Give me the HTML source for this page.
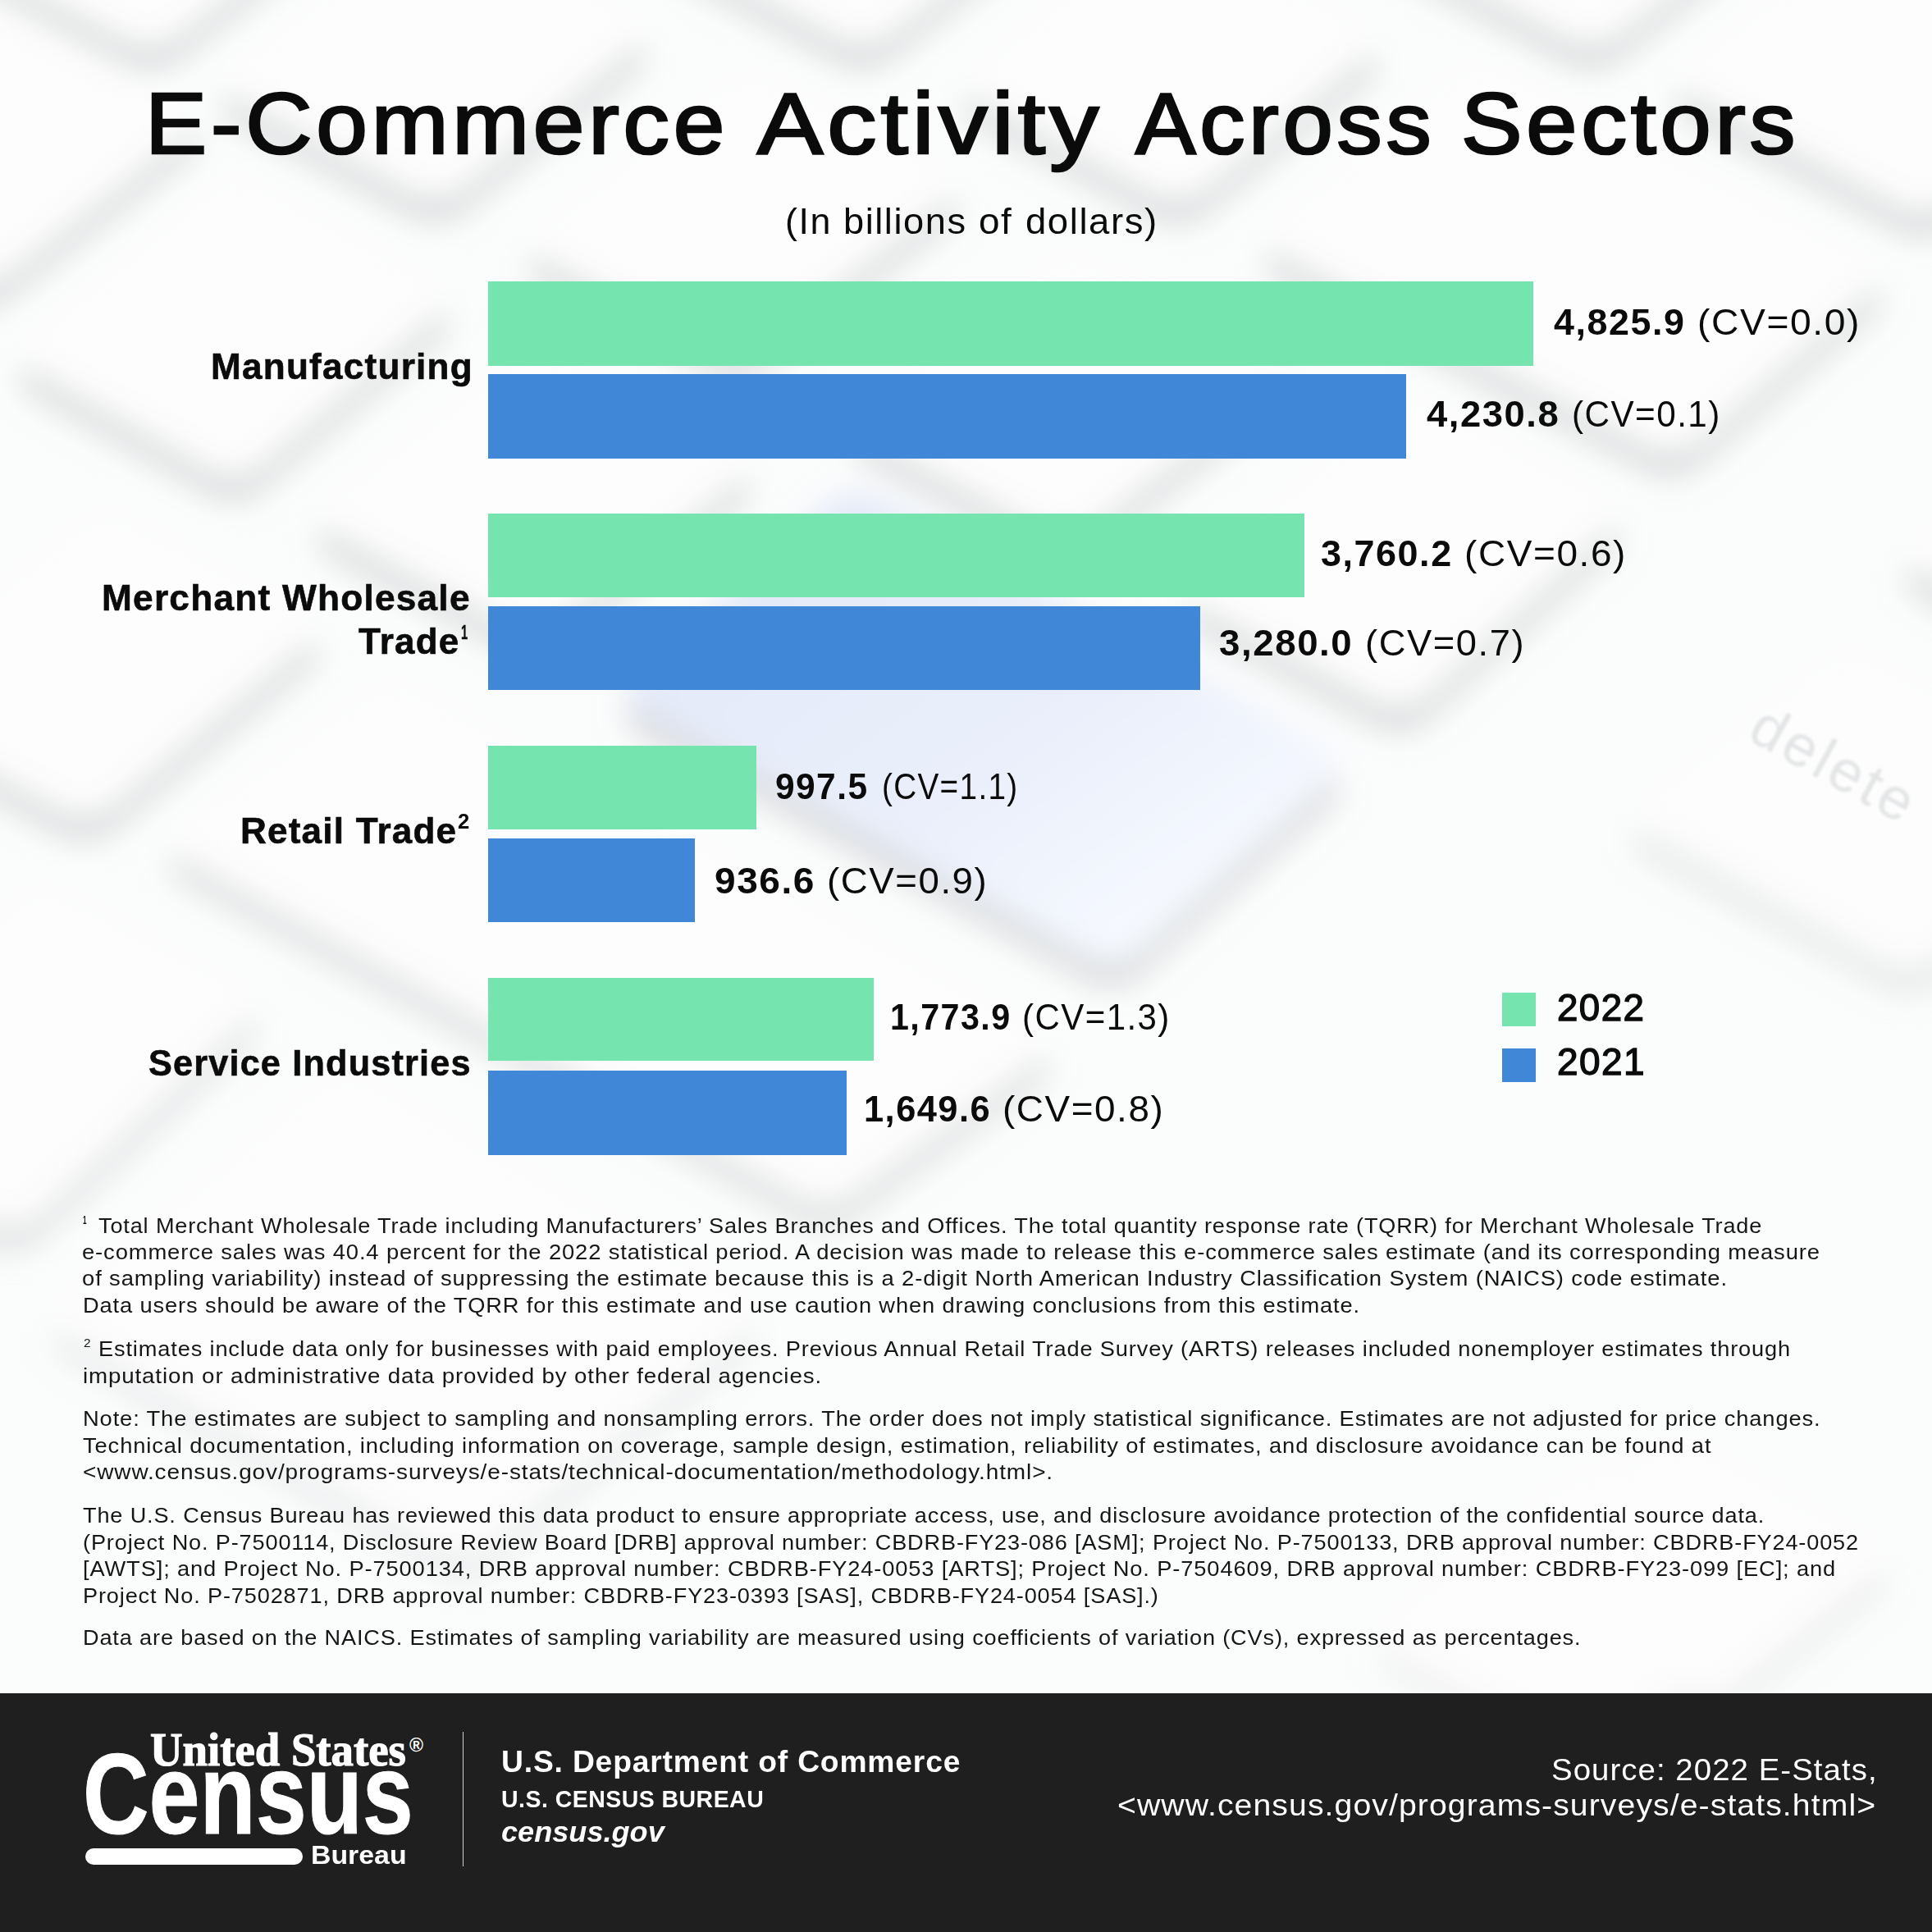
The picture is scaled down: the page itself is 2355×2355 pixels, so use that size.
<!DOCTYPE html>
<html><head><meta charset="utf-8"><title>E-Commerce Activity Across Sectors</title>
<style>
html,body{margin:0;padding:0;}
body{width:2355px;height:2355px;position:relative;overflow:hidden;background:#f8f9f9;}
.t{position:absolute;white-space:nowrap;transform-origin:0 0;}
.bar{position:absolute;left:595px;}
.g{background:#75e4ae;}
.b{background:#4087d8;}
#foot{position:absolute;left:0;top:2064px;width:2355px;height:291px;background:#1f1f1f;}
</style></head><body>
<svg id="bg" width="2355" height="2064" viewBox="0 0 2355 2064" style="position:absolute;left:0;top:0">
<defs><filter id="bl" x="-5%" y="-5%" width="110%" height="110%"><feGaussianBlur stdDeviation="18"/></filter><filter id="bl2"><feGaussianBlur stdDeviation="1.5"/></filter><linearGradient id="rg" gradientUnits="userSpaceOnUse" x1="1000" y1="620" x2="1380" y2="1180"><stop offset="0" stop-color="#e3e9f8"/><stop offset="0.55" stop-color="#eaeffb"/><stop offset="1" stop-color="#f7faff"/></linearGradient></defs>
<rect width="2355" height="2064" fill="#fbfcfc"/>
<g filter="url(#bl)"><g fill="#d6d8d9"><path d="M41,434 Q7,463 46,485 L251,600 Q290,622 324,593 L531,417 Q565,388 526,366 L321,251 Q282,229 248,258 Z" fill-opacity="1.0"/><path d="M288,104 Q253,132 293,153 L496,261 Q536,282 571,254 L770,91 Q805,63 765,42 L562,-66 Q522,-87 488,-59 Z" fill-opacity="1.0"/><path d="M-59,-81 Q-95,-53 -55,-32 L148,76 Q188,97 223,69 L432,-94 Q468,-122 428,-143 L225,-251 Q185,-272 150,-244 Z" fill-opacity="1.0"/><path d="M-267,210 Q-303,238 -263,259 L-60,367 Q-20,388 15,360 L224,197 Q260,169 220,148 L17,40 Q-23,19 -58,47 Z" fill-opacity="1.0"/><path d="M663,300 Q627,328 667,349 L861,452 Q901,473 937,445 L1150,279 Q1186,251 1146,230 L952,127 Q912,106 876,134 Z" fill-opacity="1.0"/><path d="M810,-83 Q774,-55 814,-34 L1017,74 Q1057,95 1092,67 L1301,-96 Q1337,-124 1297,-145 L1094,-253 Q1054,-274 1019,-246 Z" fill-opacity="1.0"/><path d="M1058,517 Q1022,545 1062,566 L1265,674 Q1305,695 1340,667 L1549,504 Q1585,476 1545,455 L1342,347 Q1302,326 1267,354 Z" fill-opacity="1.0"/><path d="M1192,106 Q1157,134 1197,155 L1400,263 Q1440,284 1475,256 L1662,103 Q1697,75 1657,54 L1454,-54 Q1414,-75 1380,-47 Z" fill-opacity="1.0"/><path d="M1560,294 Q1526,323 1566,344 L2003,571 Q2043,592 2077,563 L2278,388 Q2312,359 2272,338 L1835,111 Q1795,90 1761,119 Z" fill-opacity="1.0"/><path d="M1463,723 Q1429,753 1469,774 L1672,882 Q1712,903 1745,873 L1959,679 Q1992,649 1952,628 L1749,520 Q1709,499 1676,529 Z" fill-opacity="1.0"/><path d="M780,846 Q746,876 785,898 L1321,1193 Q1360,1215 1394,1185 L1617,986 Q1651,956 1612,934 L1076,639 Q1037,617 1003,647 Z" fill-opacity="1.0"/><path d="M1698,-83 Q1662,-55 1702,-34 L1905,74 Q1945,95 1980,67 L2189,-96 Q2225,-124 2185,-145 L1982,-253 Q1942,-274 1907,-246 Z" fill-opacity="1.0"/><path d="M2060,100 Q2025,128 2065,149 L2310,279 Q2350,300 2385,272 L2594,109 Q2630,81 2590,60 L2345,-70 Q2305,-91 2269,-63 Z" fill-opacity="1.0"/><path d="M2007,999 Q1972,1027 2012,1048 L2292,1201 Q2332,1222 2367,1194 L2576,1031 Q2612,1003 2572,982 L2291,830 Q2252,808 2216,836 Z" fill-opacity="0.6"/><path d="M405,633 Q370,661 410,682 L613,790 Q653,811 688,783 L897,620 Q932,592 893,571 L689,463 Q650,442 614,470 Z" fill-opacity="1.0"/><path d="M-139,857 Q-174,886 -134,907 L69,1015 Q109,1036 144,1007 L371,819 Q406,790 366,769 L163,661 Q123,640 89,669 Z" fill-opacity="1.0"/><path d="M224,1029 Q188,1056 227,1078 L971,1486 Q1010,1508 1046,1481 L1262,1325 Q1298,1298 1259,1276 L515,868 Q476,846 440,873 Z" fill-opacity="0.85"/><path d="M-230,1356 Q-263,1387 -223,1408 L-20,1516 Q20,1537 53,1506 L297,1278 Q330,1247 290,1226 L87,1118 Q47,1097 15,1128 Z" fill-opacity="0.8"/><path d="M2340,680 Q2305,708 2345,729 L2548,837 Q2588,858 2623,830 L2832,667 Q2867,639 2828,618 L2624,510 Q2585,489 2549,517 Z" fill-opacity="1.0"/><path d="M80,1607 Q46,1636 85,1658 L531,1915 Q570,1937 604,1908 L906,1653 Q940,1624 901,1602 L455,1345 Q416,1323 382,1352 Z" fill-opacity="0.5"/><path d="M1833,1935 Q1797,1963 1837,1984 L2040,2092 Q2080,2113 2115,2085 L2285,1949 Q2320,1921 2280,1900 L2077,1792 Q2037,1771 2002,1799 Z" fill-opacity="0.45"/><path d="M1695,1995 Q1660,2023 1700,2044 L1903,2152 Q1943,2173 1978,2145 L2187,1982 Q2222,1954 2183,1933 L1979,1825 Q1940,1804 1904,1832 Z" fill-opacity="0.35"/></g><path d="M41,406 Q7,435 46,457 L251,572 Q290,594 324,565 L531,389 Q565,360 526,338 L321,223 Q282,201 248,230 Z" fill="#fdfdfd"/><path d="M288,76 Q253,104 293,125 L496,233 Q536,254 571,226 L770,63 Q805,35 765,14 L562,-94 Q522,-115 488,-87 Z" fill="#fdfdfd"/><path d="M-59,-109 Q-95,-81 -55,-60 L148,48 Q188,69 223,41 L432,-122 Q468,-150 428,-171 L225,-279 Q185,-300 150,-272 Z" fill="#fdfdfd"/><path d="M-267,182 Q-303,210 -263,231 L-60,339 Q-20,360 15,332 L224,169 Q260,141 220,120 L17,12 Q-23,-9 -58,19 Z" fill="#fdfdfd"/><path d="M663,272 Q627,300 667,321 L861,424 Q901,445 937,417 L1150,251 Q1186,223 1146,202 L952,99 Q912,78 876,106 Z" fill="#fdfdfd"/><path d="M810,-111 Q774,-83 814,-62 L1017,46 Q1057,67 1092,39 L1301,-124 Q1337,-152 1297,-173 L1094,-281 Q1054,-302 1019,-274 Z" fill="#fdfdfd"/><path d="M1058,489 Q1022,517 1062,538 L1265,646 Q1305,667 1340,639 L1549,476 Q1585,448 1545,427 L1342,319 Q1302,298 1267,326 Z" fill="#fdfdfd"/><path d="M1192,78 Q1157,106 1197,127 L1400,235 Q1440,256 1475,228 L1662,75 Q1697,47 1657,26 L1454,-82 Q1414,-103 1380,-75 Z" fill="#fdfdfd"/><path d="M1560,266 Q1526,295 1566,316 L2003,543 Q2043,564 2077,535 L2278,360 Q2312,331 2272,310 L1835,83 Q1795,62 1761,91 Z" fill="#fdfdfd"/><path d="M1463,695 Q1429,725 1469,746 L1672,854 Q1712,875 1745,845 L1959,651 Q1992,621 1952,600 L1749,492 Q1709,471 1676,501 Z" fill="#fdfdfd"/><path d="M780,818 Q746,848 785,870 L1321,1165 Q1360,1187 1394,1157 L1617,958 Q1651,928 1612,906 L1076,611 Q1037,589 1003,619 Z" fill="url(#rg)"/><path d="M1698,-111 Q1662,-83 1702,-62 L1905,46 Q1945,67 1980,39 L2189,-124 Q2225,-152 2185,-173 L1982,-281 Q1942,-302 1907,-274 Z" fill="#fdfdfd"/><path d="M2060,72 Q2025,100 2065,121 L2310,251 Q2350,272 2385,244 L2594,81 Q2630,53 2590,32 L2345,-98 Q2305,-119 2269,-91 Z" fill="#fdfdfd"/><path d="M2007,971 Q1972,999 2012,1020 L2292,1173 Q2332,1194 2367,1166 L2576,1003 Q2612,975 2572,954 L2291,802 Q2252,780 2216,808 Z" fill="#fdfdfd"/><path d="M405,605 Q370,633 410,654 L613,762 Q653,783 688,755 L897,592 Q932,564 893,543 L689,435 Q650,414 614,442 Z" fill="#fdfdfd"/><path d="M-139,829 Q-174,858 -134,879 L69,987 Q109,1008 144,979 L371,791 Q406,762 366,741 L163,633 Q123,612 89,641 Z" fill="#fdfdfd"/><path d="M224,1001 Q188,1028 227,1050 L971,1458 Q1010,1480 1046,1453 L1262,1297 Q1298,1270 1259,1248 L515,840 Q476,818 440,845 Z" fill="#fdfdfd"/><path d="M-230,1328 Q-263,1359 -223,1380 L-20,1488 Q20,1509 53,1478 L297,1250 Q330,1219 290,1198 L87,1090 Q47,1069 15,1100 Z" fill="#fdfdfd"/><path d="M2340,652 Q2305,680 2345,701 L2548,809 Q2588,830 2623,802 L2832,639 Q2867,611 2828,590 L2624,482 Q2585,461 2549,489 Z" fill="#fdfdfd"/><path d="M80,1579 Q46,1608 85,1630 L531,1887 Q570,1909 604,1880 L906,1625 Q940,1596 901,1574 L455,1317 Q416,1295 382,1324 Z" fill="#fdfdfd"/><path d="M1833,1907 Q1797,1935 1837,1956 L2040,2064 Q2080,2085 2115,2057 L2285,1921 Q2320,1893 2280,1872 L2077,1764 Q2037,1743 2002,1771 Z" fill="#fdfdfd"/><path d="M1695,1967 Q1660,1995 1700,2016 L1903,2124 Q1943,2145 1978,2117 L2187,1954 Q2222,1926 2183,1905 L1979,1797 Q1940,1776 1904,1804 Z" fill="#fdfdfd"/></g>
<text x="2128" y="900" transform="rotate(29 2128 900)" font-family="Liberation Sans, Arial, sans-serif" font-size="72" fill="#e3e5e6" filter="url(#bl2)" letter-spacing="4">delete</text>
</svg>
<div class="bar g" style="top:343px;width:1274px;height:103px"></div>
<div class="bar b" style="top:456px;width:1119px;height:103px"></div>
<div class="bar g" style="top:626px;width:995px;height:102px"></div>
<div class="bar b" style="top:739px;width:868px;height:102px"></div>
<div class="bar g" style="top:909px;width:327px;height:102px"></div>
<div class="bar b" style="top:1022px;width:252px;height:102px"></div>
<div class="bar g" style="top:1192px;width:470px;height:101px"></div>
<div class="bar b" style="top:1305px;width:437px;height:103px"></div>
<div class="g" style="position:absolute;left:1831px;top:1210px;width:41px;height:41px"></div>
<div class="b" style="position:absolute;left:1831px;top:1278px;width:41px;height:41px"></div>
<div id="foot"></div>
<div style="position:absolute;left:104px;top:2253px;width:265px;height:20px;border-radius:10px;background:#fff"></div>
<div style="position:absolute;left:563.5px;top:2111px;width:1.5px;height:164px;background:#cfcfcf"></div>
<div style="position:absolute;left:499px;top:2116px;font:bold 23px/1 'Liberation Sans', Arial, sans-serif;color:#fff">&#174;</div>
<div class="t" style="left:176.90px;top:97.50px;font:normal normal 105.5px/1 'Liberation Sans', Arial, sans-serif;color:#0b0b0b;letter-spacing:4.5px;transform:scaleX(1.0671);-webkit-text-stroke:2.7px #0b0b0b;">E-Commerce</div>
<div class="t" style="left:923.34px;top:97.50px;font:normal normal 105.5px/1 'Liberation Sans', Arial, sans-serif;color:#0b0b0b;letter-spacing:4.5px;transform:scaleX(1.1385);-webkit-text-stroke:2.7px #0b0b0b;">Activity</div>
<div class="t" style="left:1383.81px;top:97.50px;font:normal normal 105.5px/1 'Liberation Sans', Arial, sans-serif;color:#0b0b0b;letter-spacing:4.5px;transform:scaleX(1.0452);-webkit-text-stroke:2.7px #0b0b0b;">Across</div>
<div class="t" style="left:1781.20px;top:97.50px;font:normal normal 105.5px/1 'Liberation Sans', Arial, sans-serif;color:#0b0b0b;letter-spacing:4.5px;transform:scaleX(1.0590);-webkit-text-stroke:2.7px #0b0b0b;">Sectors</div>
<div class="t" style="left:956.56px;top:248.10px;font:normal normal 43.9px/1 'Liberation Sans', Arial, sans-serif;color:#0b0b0b;letter-spacing:1.5px;transform:scaleX(1.0202);">(In</div>
<div class="t" style="left:1027.94px;top:248.10px;font:normal normal 43.9px/1 'Liberation Sans', Arial, sans-serif;color:#0b0b0b;letter-spacing:1.5px;transform:scaleX(1.0301);">billions</div>
<div class="t" style="left:1193.34px;top:248.10px;font:normal normal 43.9px/1 'Liberation Sans', Arial, sans-serif;color:#0b0b0b;letter-spacing:1.5px;transform:scaleX(1.0449);">of</div>
<div class="t" style="left:1250.36px;top:248.10px;font:normal normal 43.9px/1 'Liberation Sans', Arial, sans-serif;color:#0b0b0b;letter-spacing:1.5px;transform:scaleX(1.0372);">dollars)</div>
<div class="t" style="left:256.68px;top:425.76px;font:normal bold 43.6px/1 'Liberation Sans', Arial, sans-serif;color:#0b0b0b;letter-spacing:1.2px;transform:scaleX(1.0126);-webkit-text-stroke:0.6px #0b0b0b;">Manufacturing</div>
<div class="t" style="left:124.48px;top:708.36px;font:normal bold 43.6px/1 'Liberation Sans', Arial, sans-serif;color:#0b0b0b;letter-spacing:1.2px;transform:scaleX(1.0149);-webkit-text-stroke:0.6px #0b0b0b;">Merchant Wholesale</div>
<div class="t" style="left:437.11px;top:760.86px;font:normal bold 43.6px/1 'Liberation Sans', Arial, sans-serif;color:#0b0b0b;letter-spacing:1.2px;transform:scaleX(1.0095);-webkit-text-stroke:0.6px #0b0b0b;">Trade</div>
<div class="t" style="left:562.08px;top:759.79px;font:normal bold 23.5px/1 'Liberation Sans', Arial, sans-serif;color:#0b0b0b;transform:scaleX(0.6229);-webkit-text-stroke:0.3px #0b0b0b;">1</div>
<div class="t" style="left:292.88px;top:991.76px;font:normal bold 43.6px/1 'Liberation Sans', Arial, sans-serif;color:#0b0b0b;letter-spacing:1.2px;transform:scaleX(1.0105);-webkit-text-stroke:0.6px #0b0b0b;">Retail Trade</div>
<div class="t" style="left:558.39px;top:989.25px;font:normal bold 25.5px/1 'Liberation Sans', Arial, sans-serif;color:#0b0b0b;transform:scaleX(1.0041);">2</div>
<div class="t" style="left:181.10px;top:1274.86px;font:normal bold 43.6px/1 'Liberation Sans', Arial, sans-serif;color:#0b0b0b;letter-spacing:1.2px;transform:scaleX(0.9911);-webkit-text-stroke:0.6px #0b0b0b;">Service Industries</div>
<div class="t" style="left:1894.20px;top:372.16px;font:normal bold 43.6px/1 'Liberation Sans', Arial, sans-serif;color:#0b0b0b;letter-spacing:1.5px;transform:scaleX(1.0287);">4,825.9</div>
<div class="t" style="left:2069.48px;top:372.16px;font:normal normal 43.6px/1 'Liberation Sans', Arial, sans-serif;color:#0b0b0b;letter-spacing:1.5px;transform:scaleX(1.0604);">(CV=0.0)</div>
<div class="t" style="left:1739.40px;top:483.96px;font:normal bold 43.6px/1 'Liberation Sans', Arial, sans-serif;color:#0b0b0b;letter-spacing:1.5px;transform:scaleX(1.0405);">4,230.8</div>
<div class="t" style="left:1916.06px;top:483.96px;font:normal normal 43.6px/1 'Liberation Sans', Arial, sans-serif;color:#0b0b0b;letter-spacing:1.5px;transform:scaleX(0.9690);">(CV=0.1)</div>
<div class="t" style="left:1610.17px;top:653.96px;font:normal bold 43.6px/1 'Liberation Sans', Arial, sans-serif;color:#0b0b0b;letter-spacing:1.5px;transform:scaleX(1.0302);">3,760.2</div>
<div class="t" style="left:1785.09px;top:653.96px;font:normal normal 43.6px/1 'Liberation Sans', Arial, sans-serif;color:#0b0b0b;letter-spacing:1.5px;transform:scaleX(1.0549);">(CV=0.6)</div>
<div class="t" style="left:1485.55px;top:762.96px;font:normal bold 43.6px/1 'Liberation Sans', Arial, sans-serif;color:#0b0b0b;letter-spacing:1.5px;transform:scaleX(1.0473);">3,280.0</div>
<div class="t" style="left:1664.12px;top:762.96px;font:normal normal 43.6px/1 'Liberation Sans', Arial, sans-serif;color:#0b0b0b;letter-spacing:1.5px;transform:scaleX(1.0395);">(CV=0.7)</div>
<div class="t" style="left:945.03px;top:938.46px;font:normal bold 43.6px/1 'Liberation Sans', Arial, sans-serif;color:#0b0b0b;letter-spacing:1.5px;transform:scaleX(0.9733);">997.5</div>
<div class="t" style="left:1074.63px;top:938.46px;font:normal normal 43.6px/1 'Liberation Sans', Arial, sans-serif;color:#0b0b0b;letter-spacing:1.5px;transform:scaleX(0.8875);">(CV=1.1)</div>
<div class="t" style="left:871.14px;top:1053.36px;font:normal bold 43.6px/1 'Liberation Sans', Arial, sans-serif;color:#0b0b0b;letter-spacing:1.5px;transform:scaleX(1.0546);">936.6</div>
<div class="t" style="left:1007.71px;top:1053.36px;font:normal normal 43.6px/1 'Liberation Sans', Arial, sans-serif;color:#0b0b0b;letter-spacing:1.5px;transform:scaleX(1.0461);">(CV=0.9)</div>
<div class="t" style="left:1084.91px;top:1218.56px;font:normal bold 43.6px/1 'Liberation Sans', Arial, sans-serif;color:#0b0b0b;letter-spacing:1.5px;transform:scaleX(0.9458);">1,773.9</div>
<div class="t" style="left:1246.08px;top:1218.56px;font:normal normal 43.6px/1 'Liberation Sans', Arial, sans-serif;color:#0b0b0b;letter-spacing:1.5px;transform:scaleX(0.9635);">(CV=1.3)</div>
<div class="t" style="left:1053.21px;top:1331.36px;font:normal bold 43.6px/1 'Liberation Sans', Arial, sans-serif;color:#0b0b0b;letter-spacing:1.5px;transform:scaleX(0.9947);">1,649.6</div>
<div class="t" style="left:1222.10px;top:1331.36px;font:normal normal 43.6px/1 'Liberation Sans', Arial, sans-serif;color:#0b0b0b;letter-spacing:1.5px;transform:scaleX(1.0516);">(CV=0.8)</div>
<div class="t" style="left:1897.52px;top:1205.21px;font:normal normal 46.5px/1 'Liberation Sans', Arial, sans-serif;color:#0b0b0b;letter-spacing:1.5px;transform:scaleX(0.9822);-webkit-text-stroke:1.4px #0b0b0b;">2022</div>
<div class="t" style="left:1897.52px;top:1271.01px;font:normal normal 46.5px/1 'Liberation Sans', Arial, sans-serif;color:#0b0b0b;letter-spacing:1.5px;transform:scaleX(0.9879);-webkit-text-stroke:1.4px #0b0b0b;">2021</div>
<div class="t" style="left:120.20px;top:1481.71px;font:normal normal 25.2px/1 'Liberation Sans', Arial, sans-serif;color:#161616;letter-spacing:0.8px;transform:scaleX(1.0751);">Total Merchant Wholesale Trade including Manufacturers’ Sales Branches and Offices. The total quantity response rate (TQRR) for Merchant Wholesale Trade</div>
<div class="t" style="left:100.11px;top:1513.71px;font:normal normal 25.2px/1 'Liberation Sans', Arial, sans-serif;color:#161616;letter-spacing:0.8px;transform:scaleX(1.0866);">e-commerce sales was 40.4 percent for the 2022 statistical period. A decision was made to release this e-commerce sales estimate (and its corresponding measure</div>
<div class="t" style="left:100.11px;top:1546.31px;font:normal normal 25.2px/1 'Liberation Sans', Arial, sans-serif;color:#161616;letter-spacing:0.8px;transform:scaleX(1.0892);">of sampling variability) instead of suppressing the estimate because this is a 2-digit North American Industry Classification System (NAICS) code estimate.</div>
<div class="t" style="left:100.63px;top:1579.21px;font:normal normal 25.2px/1 'Liberation Sans', Arial, sans-serif;color:#161616;letter-spacing:0.8px;transform:scaleX(1.0823);">Data users should be aware of the TQRR for this estimate and use caution when drawing conclusions from this estimate.</div>
<div class="t" style="left:119.84px;top:1631.51px;font:normal normal 25.2px/1 'Liberation Sans', Arial, sans-serif;color:#161616;letter-spacing:0.8px;transform:scaleX(1.0790);">Estimates include data only for businesses with paid employees. Previous Annual Retail Trade Survey (ARTS) releases included nonemployer estimates through</div>
<div class="t" style="left:100.90px;top:1664.51px;font:normal normal 25.2px/1 'Liberation Sans', Arial, sans-serif;color:#161616;letter-spacing:0.8px;transform:scaleX(1.0992);">imputation or administrative data provided by other federal agencies.</div>
<div class="t" style="left:100.63px;top:1716.51px;font:normal normal 25.2px/1 'Liberation Sans', Arial, sans-serif;color:#161616;letter-spacing:0.8px;transform:scaleX(1.0839);">Note: The estimates are subject to sampling and nonsampling errors. The order does not imply statistical significance. Estimates are not adjusted for price changes.</div>
<div class="t" style="left:100.80px;top:1749.51px;font:normal normal 25.2px/1 'Liberation Sans', Arial, sans-serif;color:#161616;letter-spacing:0.8px;transform:scaleX(1.0854);">Technical documentation, including information on coverage, sample design, estimation, reliability of estimates, and disclosure avoidance can be found at</div>
<div class="t" style="left:100.89px;top:1782.31px;font:normal normal 25.2px/1 'Liberation Sans', Arial, sans-serif;color:#161616;letter-spacing:0.8px;transform:scaleX(1.1103);">&lt;www.census.gov/programs-surveys/e-stats/technical-documentation/methodology.html&gt;.</div>
<div class="t" style="left:100.80px;top:1834.61px;font:normal normal 25.2px/1 'Liberation Sans', Arial, sans-serif;color:#161616;letter-spacing:0.8px;transform:scaleX(1.0753);">The U.S. Census Bureau has reviewed this data product to ensure appropriate access, use, and disclosure avoidance protection of the confidential source data.</div>
<div class="t" style="left:100.92px;top:1867.71px;font:normal normal 25.2px/1 'Liberation Sans', Arial, sans-serif;color:#161616;letter-spacing:0.8px;transform:scaleX(1.0758);">(Project No. P-7500114, Disclosure Review Board [DRB] approval number: CBDRB-FY23-086 [ASM]; Project No. P-7500133, DRB approval number: CBDRB-FY24-0052</div>
<div class="t" style="left:100.92px;top:1900.41px;font:normal normal 25.2px/1 'Liberation Sans', Arial, sans-serif;color:#161616;letter-spacing:0.8px;transform:scaleX(1.0830);">[AWTS]; and Project No. P-7500134, DRB approval number: CBDRB-FY24-0053 [ARTS]; Project No. P-7504609, DRB approval number: CBDRB-FY23-099 [EC]; and</div>
<div class="t" style="left:100.65px;top:1932.51px;font:normal normal 25.2px/1 'Liberation Sans', Arial, sans-serif;color:#161616;letter-spacing:0.8px;transform:scaleX(1.0765);">Project No. P-7502871, DRB approval number: CBDRB-FY23-0393 [SAS], CBDRB-FY24-0054 [SAS].)</div>
<div class="t" style="left:100.65px;top:1983.71px;font:normal normal 25.2px/1 'Liberation Sans', Arial, sans-serif;color:#161616;letter-spacing:0.8px;transform:scaleX(1.0758);">Data are based on the NAICS. Estimates of sampling variability are measured using coefficients of variation (CVs), expressed as percentages.</div>
<div class="t" style="left:101.00px;top:1479.33px;font:normal bold 15.0px/1 'Liberation Sans', Arial, sans-serif;color:#161616;transform:scaleX(0.5360);">1</div>
<div class="t" style="left:101.75px;top:1629.12px;font:normal normal 15.0px/1 'Liberation Sans', Arial, sans-serif;color:#161616;transform:scaleX(1.0308);">2</div>
<div class="t" style="left:182.82px;top:2103.65px;font:normal bold 57.3px/1 'Liberation Serif', serif;color:#ffffff;transform:scaleX(0.9558);-webkit-text-stroke:1.2px #ffffff;">United States</div>
<div class="t" style="left:100.61px;top:2117.40px;font:normal bold 140.0px/1 'Liberation Sans', Arial, sans-serif;color:#ffffff;transform:scaleX(0.7966);-webkit-text-stroke:1.0px #ffffff;">Census</div>
<div class="t" style="left:379.27px;top:2245.46px;font:normal bold 32.0px/1 'Liberation Sans', Arial, sans-serif;color:#ffffff;transform:scaleX(1.0574);">Bureau</div>
<div class="t" style="left:611.33px;top:2129.90px;font:normal bold 36.1px/1 'Liberation Sans', Arial, sans-serif;color:#ffffff;letter-spacing:0.8px;transform:scaleX(1.0320);">U.S. Department of Commerce</div>
<div class="t" style="left:611.43px;top:2177.54px;font:normal bold 29.3px/1 'Liberation Sans', Arial, sans-serif;color:#ffffff;letter-spacing:0.5px;transform:scaleX(0.9712);">U.S. CENSUS BUREAU</div>
<div class="t" style="left:610.98px;top:2215.80px;font:italic bold 35.5px/1 'Liberation Sans', Arial, sans-serif;color:#ffffff;transform:scaleX(1.0175);">census.gov</div>
<div class="t" style="left:1890.95px;top:2139.50px;font:normal normal 36.8px/1 'Liberation Sans', Arial, sans-serif;color:#ffffff;letter-spacing:1.0px;transform:scaleX(1.0437);">Source: 2022 E-Stats,</div>
<div class="t" style="left:1361.73px;top:2182.60px;font:normal normal 36.8px/1 'Liberation Sans', Arial, sans-serif;color:#ffffff;letter-spacing:1.0px;transform:scaleX(1.0657);">&lt;www.census.gov/programs-surveys/e-stats.html&gt;</div>
</body></html>
